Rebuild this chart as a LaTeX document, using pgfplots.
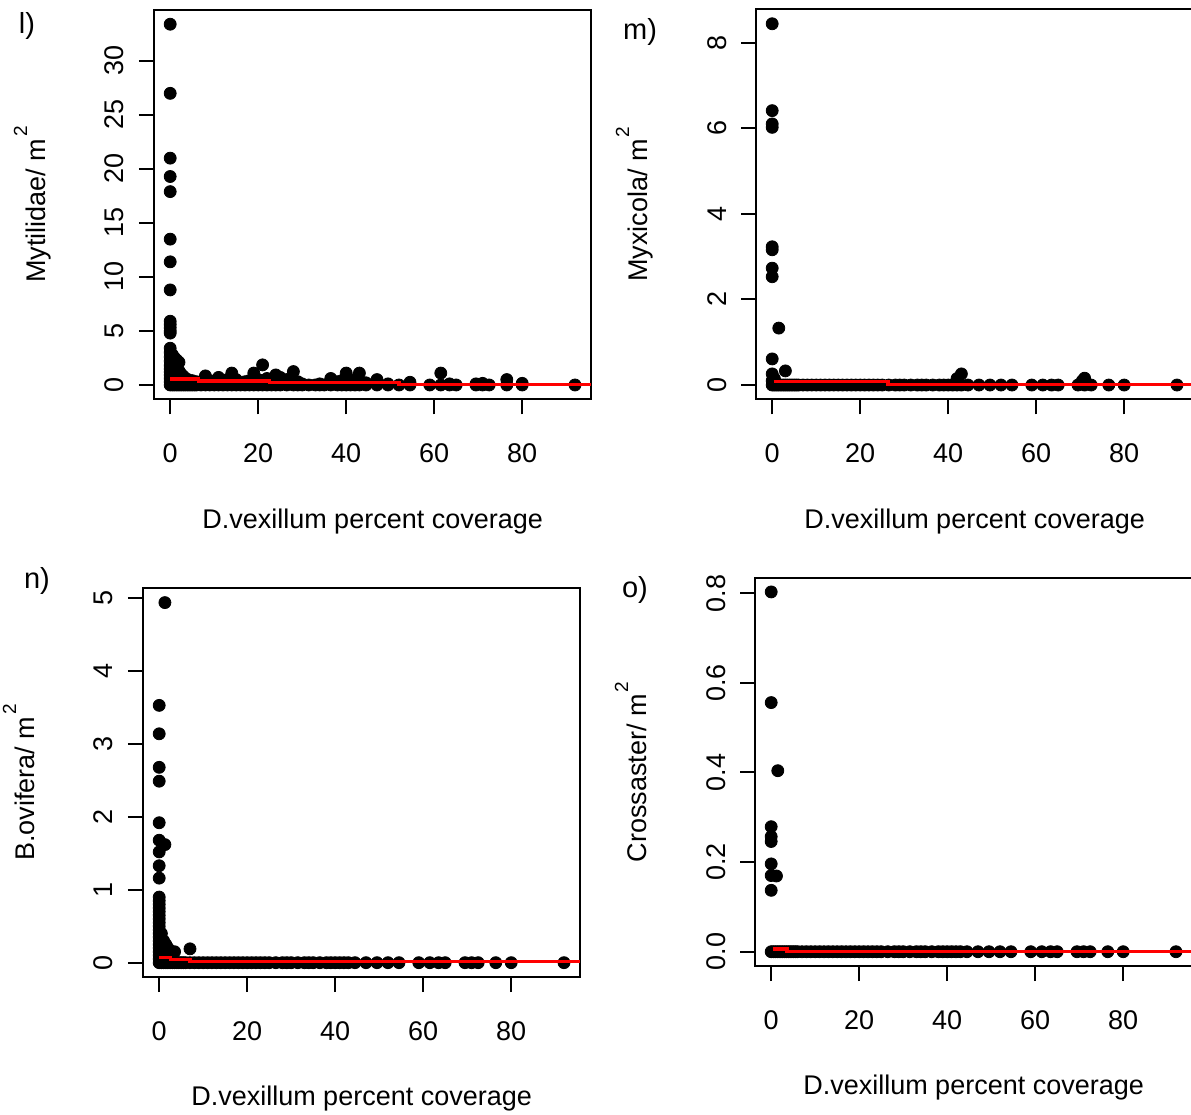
\documentclass[border=0pt]{standalone}
\usepackage{pgfplots}
\pgfplotsset{compat=1.18}
\usepackage{fontspec}
\setmainfont{Liberation Sans}

% shared look of the four scatter panels
\pgfplotsset{
  rpanel/.style={
    scale only axis,
    width=218.6pt,
    anchor=south west,
    xmin=-3.68, xmax=95.68,
    font=\fontsize{13.5}{16}\selectfont,
    axis line style={line width=1pt, black},
    every tick/.style={line width=1pt, black},
    tick align=outside,
    major tick length=7.5pt,
    xtick pos=left, ytick pos=left,
    xtick={0,20,40,60,80},
    xticklabels={0,20,40,60,80},
    yticklabel style={rotate=90, anchor=base},
    xticklabel style={anchor=base},
    xticklabel shift={24pt},
    yticklabel shift={7.5pt},
    xlabel={D.vexillum percent coverage},
    xlabel style={at={(axis description cs:0.5,-0.331)}, anchor=base},
    ylabel style={at={(axis description cs:-0.249,0.5)}, anchor=base},
    clip=false,
    clip marker paths=true, % keep plot order: fitted line over the points
  },
  dots/.style={only marks, mark=*, mark size=3pt, black,
    mark options={fill=black, draw=black, line width=0.4pt}},
  fit/.style={red, line width=1.6pt, const plot, no marks},
}
\newcommand{\sq}{\kern1pt\raisebox{9pt}{\fontsize{9.5}{9.5}\selectfont 2}}

% sampling sites with zero counts (present in every panel)
\pgfplotstableread{
x y
0 0
0.5 0
1 0
1.5 0
2 0
2.5 0
3 0
3.5 0
4 0
4.5 0
5 0
5.5 0
6 0
7 0
8 0
9 0
10 0
11 0
12 0
13 0
14 0
15 0
16 0
17 0
18 0
19 0
20 0
21 0
22 0
23 0
24 0
25 0
26.5 0
28 0
29 0
30 0
31.5 0
33 0
34 0
35 0
36.5 0
38 0
39 0
40 0
41 0
42 0
43 0
44.5 0
47 0
49.5 0
52 0
54.5 0
59 0
61.5 0
63.5 0
65 0
69.5 0
71 0
72.5 0
76.5 0
80 0
92 0
}\zerosites

\pgfplotstableread{
x y
0 33.4
0 27.0
0 21.0
0 19.3
0 17.9
0 13.5
0 11.4
0 8.8
0 5.9
0 5.6
0 5.3
0 5.0
0 4.8
0 3.4
0 3.0
0 2.6
0 2.2
0 1.8
0 1.5
0 1.2
0 0.9
0 0.6
0 0.3
0.5 2.8
0.5 2.0
0.5 1.4
0.5 0.8
0.5 0.4
1 2.5
1 1.6
1 1.0
1 0.5
1.5 2.3
1.5 1.2
1.5 0.6
2 2.1
2 1.3
2 0.7
2 0.2
2.5 1.0
2.5 0.4
3 0.8
3 0.3
3.5 0.6
4 0.5
4 0.2
5 0.4
6 0.3
7 0.2
8 0.84
8 0.3
9 0.4
10 0.3
11 0.7
11 0.2
12 0.4
13 0.5
14 1.1
14 0.3
15 0.5
16 0.2
17 0.3
18 0.4
19 1.1
19 0.3
20 0.5
21 1.86
21 0.4
22 0.6
23 0.3
24 0.93
24 0.2
25 0.7
26.5 0.5
28 1.24
29 0.3
30 0.1
34 0.1
36.5 0.6
38 0.3
39 0.4
40 1.1
40 0.5
41 0.3
42 0.5
43 1.1
43 0.4
44.5 0.2
47 0.5
49.5 0.1
54.5 0.25
61.5 1.1
63.5 0.1
69.5 0.1
71 0.15
76.5 0.5
80 0.15
}\mytilidae

\pgfplotstableread{
x y
0 8.44
0 6.41
0 6.10
0 6.02
0 3.23
0 3.16
0 2.73
0 2.53
0 0.61
0 0.26
0 0.10
0.5 0.15
1.5 1.33
3 0.33
42 0.15
43 0.26
70.5 0.10
71 0.16
}\myxicola

\pgfplotstableread{
x y
1.3 4.94
0 3.53
0 3.14
0 2.68
0 2.49
0 1.92
0 1.68
1.3 1.62
0 1.52
0 1.33
0 1.16
0 0.90
0 0.85
0 0.80
0 0.75
0 0.70
0 0.65
0 0.60
0 0.55
0 0.50
0 0.45
0 0.40
0 0.35
0 0.30
0 0.25
0 0.20
0 0.15
0 0.10
0 0.05
0.5 0.40
0.5 0.20
1 0.30
1 0.10
1.5 0.25
2 0.20
2.5 0.15
3.5 0.15
7 0.19
}\bovifera

\pgfplotstableread{
x y
0 0.803
0 0.556
1.5 0.404
0 0.279
0 0.257
0 0.246
0 0.196
1.2 0.169
0 0.170
0 0.137
}\crossaster

\begin{document}
\begin{tikzpicture}
\path[use as bounding box] (0,0) rectangle (595.5pt,557.5pt);
\clip (0,0) rectangle (595.5pt,557.5pt);

% l) Mytilidae
\begin{axis}[rpanel, at={(77pt,357.8pt)}, height=194.8pt,
  ymin=-1.336, ymax=34.736,
  ytick={0,5,10,15,20,25,30}, yticklabels={0,5,10,15,20,25,30},
  ylabel={Mytilidae/ m\sq}]
  \addplot[dots] table {\zerosites};
  \addplot[dots] table {\mytilidae};
  \addplot[fit] coordinates {(0,0.56) (6.5,0.37) (22.5,0.22) (52,0.06) (95.68,0.06)};
\end{axis}

% m) Myxicola
\begin{axis}[rpanel, at={(378pt,357.75pt)}, height=195.1pt,
  ymin=-0.338, ymax=8.778,
  ytick={0,2,4,6,8}, yticklabels={0,2,4,6,8},
  ylabel={Myxicola/ m\sq}]
  \addplot[dots] table {\zerosites};
  \addplot[dots] table {\myxicola};
  \addplot[fit] coordinates {(0.3,0.08) (26.3,0.018) (95.68,0.018)};
\end{axis}

% n) B.ovifera
\begin{axis}[rpanel, at={(71.5pt,68.95pt)}, height=194.45pt,
  ymin=-0.1976, ymax=5.1376,
  ytick={0,1,2,3,4,5}, yticklabels={0,1,2,3,4,5},
  ylabel={B.ovifera/ m\sq}]
  \addplot[dots] table {\zerosites};
  \addplot[dots] table {\bovifera};
  \addplot[fit] coordinates {(0,0.07) (2.5,0.04) (7,0.014) (95.68,0.014)};
\end{axis}

% o) Crossaster
\begin{axis}[rpanel, at={(377.5pt,74.45pt)}, height=194.25pt,
  ymin=-0.0321, ymax=0.835,
  ytick={0,0.2,0.4,0.6,0.8}, yticklabels={0.0,0.2,0.4,0.6,0.8},
  ylabel={Crossaster/ m\sq}]
  \addplot[dots] table {\zerosites};
  \addplot[dots] table {\crossaster};
  \addplot[fit] coordinates {(0.3,0.006) (3.6,0.001) (95.68,0.001)};
\end{axis}

% panel letters
\begin{scope}[every node/.style={font=\fontsize{14.5}{16}\selectfont}]
\node at (13.5pt,544.5pt) {l)};
\node at (320pt,541.5pt) {m)};
\node at (18.5pt,267pt) {n)};
\node at (317.5pt,262.5pt) {o)};
\end{scope}
\end{tikzpicture}
\end{document}
